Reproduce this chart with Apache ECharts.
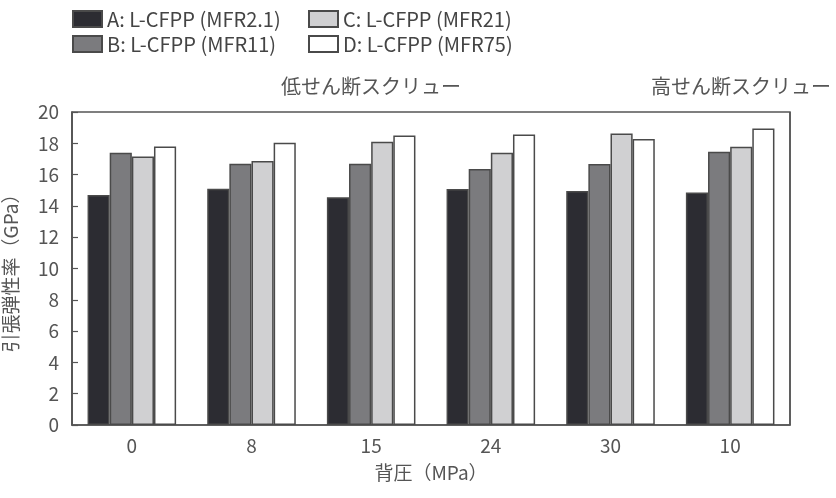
<!DOCTYPE html>
<html>
<head>
<meta charset="utf-8">
<script src="https://cdn.jsdelivr.net/npm/echarts@6/dist/echarts.min.js"></script>
<style>
  html, body { margin: 0; padding: 0; background: #fff; }
  #chart { width: 836px; height: 498px; }
</style>
</head>
<body>
<div id="chart"></div>
<script>
const categories = ['0', '8', '15', '24', '30', '10']
const seriesNames = ['A: L-CFPP (MFR2.1)', 'B: L-CFPP (MFR11)', 'C: L-CFPP (MFR21)', 'D: L-CFPP (MFR75)']
const valuesA = [14.7, 15.1, 14.55, 15.08, 14.95, 14.86]
const valuesB = [17.4, 16.7, 16.7, 16.36, 16.68, 17.46]
const valuesC = [17.15, 16.87, 18.1, 17.4, 18.63, 17.78]
const valuesD = [17.8, 18.04, 18.5, 18.57, 18.27, 18.95]
const colors = ['#2c2c32', '#7b7b7e', '#d0d0d2', '#ffffff']

const font = '"Noto Sans CJK JP", "Noto Sans", sans-serif'
const textColor = '#555'
const lineColor = '#555'

const chart = echarts.init(document.getElementById('chart'))

const allValues = [valuesA, valuesB, valuesC, valuesD]
const series = allValues.map((vals, i) => ({
  name: seriesNames[i],
  type: 'bar',
  data: vals,
  barGap: '0%',
  barCategoryGap: '26%',
  itemStyle: { color: colors[i], borderColor: '#4a4a4a', borderWidth: 1.5 }
}))

// two legend columns: A/B on the left, C/D on the right
const legendBase = {
  orient: 'vertical',
  top: 4,
  icon: 'rect',
  itemWidth: 29,
  itemHeight: 16,
  itemGap: 5,
  textStyle: { fontFamily: font, fontSize: 20, color: '#444', lineHeight: 20 }
}

chart.setOption({
  animation: false,
  textStyle: { fontFamily: font },
  legend: [
    Object.assign({}, legendBase, { left: 67, data: [seriesNames[0], seriesNames[1]] }),
    Object.assign({}, legendBase, { left: 303, data: [seriesNames[2], seriesNames[3]] })
  ],
  grid: {
    left: 72, right: 46, top: 112, bottom: 73,
    outerBoundsMode: 'none',
    show: true, borderColor: lineColor, borderWidth: 1.5, backgroundColor: 'transparent'
  },
  xAxis: {
    type: 'category',
    data: categories,
    name: '背圧（MPa）',
    nameLocation: 'middle',
    nameGap: 38,
    nameTextStyle: { fontSize: 19, color: textColor, fontFamily: font },
    axisLine: { lineStyle: { color: lineColor, width: 1.5 } },
    axisTick: { inside: true, length: 6, lineStyle: { color: lineColor, width: 1.2 } },
    axisLabel: { fontSize: 19, color: textColor, margin: 11, fontFamily: font },
    splitLine: {
      show: true,
      interval: (idx) => idx === 5,
      lineStyle: { color: lineColor, width: 1.5 }
    }
  },
  yAxis: {
    type: 'value',
    min: 0, max: 20, interval: 2,
    name: '引張弾性率（GPa）',
    nameLocation: 'middle',
    nameGap: 52,
    nameTextStyle: { fontSize: 19, color: textColor, fontFamily: font },
    axisLine: { show: true, lineStyle: { color: lineColor, width: 1.5 } },
    axisTick: { show: true, inside: true, length: 6, lineStyle: { color: lineColor, width: 1.2 } },
    axisLabel: { fontSize: 19, color: textColor, margin: 13, fontFamily: font },
    splitLine: { show: false }
  },
  graphic: [
    { type: 'text', left: 281, top: 76, style: { text: '低せん断スクリュー', fontSize: 20, fill: textColor, fontFamily: font } },
    { type: 'text', left: 651, top: 76, style: { text: '高せん断スクリュー', fontSize: 20, fill: textColor, fontFamily: font } }
  ],
  series: series
})
</script>
</body>
</html>
